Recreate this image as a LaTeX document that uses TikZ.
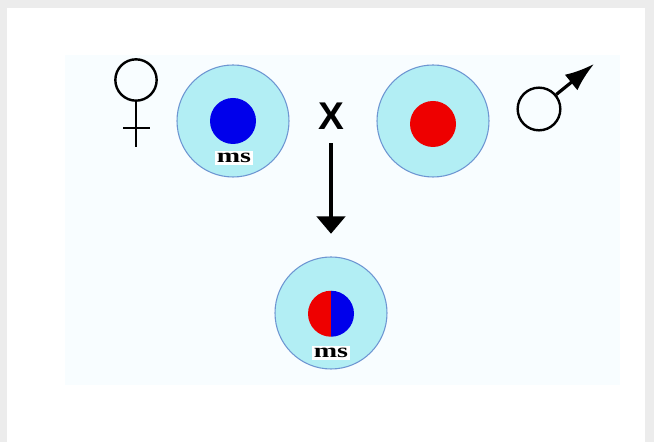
\documentclass[tikz,border=0pt]{standalone}
\usepackage{fontspec}
\usepackage{graphicx}
\usetikzlibrary{arrows.meta}
\newfontfamily\labelsans{Liberation Sans}
\newfontfamily\labelserif{Liberation Serif}
\definecolor{cytoplasm}{RGB}{178,238,244}
\definecolor{cellrim}{RGB}{110,150,210}
\definecolor{nucblue}{RGB}{0,0,235}
\definecolor{nucred}{RGB}{238,0,0}
\definecolor{paper}{RGB}{236,236,236}
\definecolor{panel}{RGB}{248,253,255}
\tikzset{
  cell/.style={circle,draw=cellrim,line width=0.8pt,fill=cytoplasm,
    minimum size=84pt,inner sep=0pt},
  nucleus/.style={circle,minimum size=34.5pt,inner sep=0pt},
  mslabel/.style={fill=white,inner sep=1.5pt,
    font=\labelserif\bfseries\fontsize{15}{15}\selectfont},
  sexring/.style={circle,draw,line width=1.8pt,inner sep=0pt},
  sexline/.style={line width=1.8pt}
}
\begin{document}
\begin{tikzpicture}[x=0.75pt,y=0.75pt]
  % page, white sheet and pale panel
  \fill[paper] (0,0) rectangle (654,442);
  \fill[white] (7,0) rectangle (645,434);
  \fill[panel] (65,57) rectangle (620,387);
  % parents
  \node[cell] (mother) at (233,321) {};
  \node[nucleus,fill=nucblue] (mothernuc) at (233,321) {};
  \node[mslabel] (motherms) at (234,284) {\scalebox{1.4}[1]{ms}};
  \node[cell] (father) at (433,321) {};
  \node[nucleus,fill=nucred] (fathernuc) at (433,318) {};
  \node[font=\labelsans\bfseries\fontsize{29}{29}\selectfont] (cross) at (331,326) {X};
  % venus sign
  \node[sexring,minimum width=31pt,minimum height=27pt] (venus) at (136,362) {};
  \draw[sexline] (venus.south) -- ++(0,-45);
  \draw[sexline] (123,314) -- (150,314);
  % mars sign
  \node[sexring,minimum size=32pt] (mars) at (539,333) {};
  \draw[line width=2.4pt,-{Latex[length=22pt,width=15pt]}] (mars.40) -- (594,378);
  % offspring
  \node[cell] (child) at (331,129) {};
  \node[nucleus] (childnuc) at (331,128) {};
  \fill[nucred] (childnuc.north) arc[start angle=90,end angle=270,radius=17.25pt] -- cycle;
  \fill[nucblue] (childnuc.north) arc[start angle=90,end angle=-90,radius=17.25pt] -- cycle;
  \node[mslabel] (childms) at (331,89) {\scalebox{1.4}[1]{ms}};
  \draw[line width=3.6pt,-{Triangle[length=13pt,width=21pt]},
    shorten <=7pt,shorten >=17pt] (cross) -- (child.north);
\end{tikzpicture}
\end{document}
